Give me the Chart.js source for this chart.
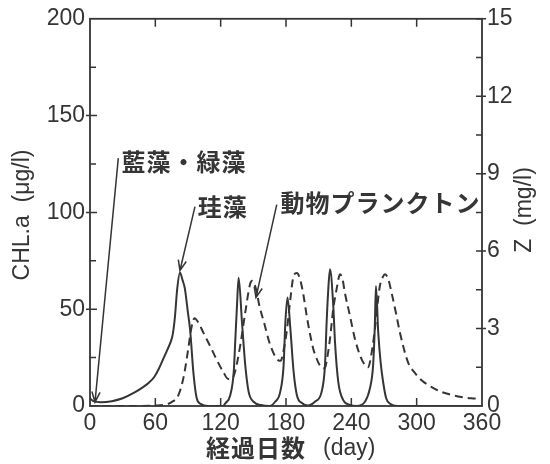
<!DOCTYPE html>
<html><head><meta charset="utf-8">
<script src="https://cdn.jsdelivr.net/npm/chart.js@4/dist/chart.umd.min.js"></script>
<style>html,body{margin:0;padding:0;background:#fff;overflow:hidden}#wrap{width:550px;height:464px}</style>
</head><body><div id="wrap"><canvas id="c" width="550" height="464"></canvas></div>
<script>
// ---- data ----
const chlDays = [0,3,10,20,30,41,48,54,59,63,67,71,74,76,78,80,82.6,85,87,90,92,95,98,102,108,
  122,124.3,128.8,132,133.5,135,136.5,139.6,142.6,145.7,150.3,157,165,
  170,174.7,177.8,179.4,181.4,184,187,190,195,200,
  206.6,212.7,215.8,217.3,218.8,220.4,223.4,225,228,232.6,238.7,245,
  252.5,257,260,261.5,262.6,264.7,267,269.3,272,276,282,360];
const chlValues = [4,2.5,2,2.5,4,7,9.5,12,15,19,24,29,33,37,46,60,69,65,61,48,39,17,4,1,0,
  0,1.4,5.6,17.6,34.7,52,66.3,43,21,7.3,2.2,0.5,0,
  2.2,7.3,21,43,56,40,17.6,5.6,1.4,0.3,
  2.2,7.3,21,43,60,70.6,52,33,12.5,3,0.5,0,
  2.2,9,21,40,62,38,22,12,4,1,0,0];
const zDays = [0,30,60,70,75,81,86,90,93,96,100,104,110,116,122,127,130,133,138,142.6,147,149,152,156,159.4,165.6,
  173,175,178,181,184,187,190,193,196,199,202,205,208,211,214,216,218,220.4,223.4,226.5,229.6,
  232,234,238.7,243.3,248,252.5,255.5,258,261.7,264,266,269,271,274,277,281,284.6,292,298,304.5,313,323,333,341,350,357];
const zValues = [0,0,0.02,0.06,0.15,0.4,1.13,2.15,3.0,3.4,3.2,2.85,2.35,1.82,1.35,1.05,1.05,1.3,2.35,3.63,4.72,4.85,4.6,3.8,3.3,2.35,
  1.77,1.75,2.2,3.0,4.14,5.04,5.15,4.9,4.3,3.5,2.8,2.22,1.85,1.58,1.45,1.5,1.9,2.6,3.76,4.53,5.1,
  4.9,4.4,3.5,2.6,1.96,1.58,1.5,1.9,3.0,3.9,4.6,5.0,5.1,4.9,4.38,3.6,2.85,1.7,1.3,1.0,0.75,0.54,0.42,0.35,0.3,0.28];
const xTickValues = [0,60,120,180,240,300,360];
const leftTickValues = [0,50,100,150,200];
const rightTickValues = [0,3,6,9,12,15];
const xTitleJa = '経過日数';
const xTitleUnit = '(day)';
const leftTitle = 'CHL.a  (μg/l)';
const rightTitle = 'Z  (mg/l)';
const notes = [
  {text:'藍藻・緑藻', at:[29,126], from:[26,128], to:[4.6,2]},
  {text:'珪藻', at:[99,103], from:[96.4,103], to:[82.6,70]},
  {text:'動物プランクトン', at:[175,105], from:[171.5,104], to:[152.4,56]}
];

const INK = '#353535';
const NUMFONT = '"Liberation Sans", Arial, sans-serif';
const JAFONT = '"Noto Sans CJK JP", sans-serif';

const decor = {
  id:'decor',
  afterDraw(chart){
    const ctx = chart.ctx, a = chart.chartArea;
    const sx = chart.scales.x, sy = chart.scales.y, sy2 = chart.scales.y2;
    ctx.save();
    ctx.strokeStyle = INK; ctx.fillStyle = INK; ctx.lineWidth = 1.8;
    ctx.strokeRect(a.left, a.top, a.right - a.left, a.bottom - a.top);
    ctx.lineWidth = 1.5;
    ctx.beginPath();
    xTickValues.forEach(v => {
      if (v <= sx.min || v >= sx.max) return;
      const px = sx.getPixelForValue(v);
      ctx.moveTo(px, a.bottom); ctx.lineTo(px, a.bottom - 8);
      ctx.moveTo(px, a.top); ctx.lineTo(px, a.top + 8);
    });
    leftTickValues.forEach((v, i) => {
      const py = sy.getPixelForValue(v);
      if (v > sy.min && v < sy.max) { ctx.moveTo(a.left - 4, py); ctx.lineTo(a.left + 7, py); }
      if (i < leftTickValues.length - 1) {
        const pm = sy.getPixelForValue((v + leftTickValues[i+1]) / 2);
        ctx.moveTo(a.left, pm); ctx.lineTo(a.left + 6, pm);
      }
    });
    rightTickValues.forEach((v, i) => {
      const py = sy2.getPixelForValue(v);
      if (v > sy2.min) { ctx.moveTo(a.right - 6, py); ctx.lineTo(a.right + 4, py); }
      if (i < rightTickValues.length - 1) {
        const pm = sy2.getPixelForValue((v + rightTickValues[i+1]) / 2);
        ctx.moveTo(a.right - 6, pm); ctx.lineTo(a.right, pm);
      }
    });
    ctx.stroke();

    // axis titles
    ctx.textBaseline = 'middle';
    ctx.font = 'bold 24px ' + JAFONT;
    ctx.textAlign = 'left';
    ctx.letterSpacing = '1px';
    ctx.fillText(xTitleJa, 206, 448);
    ctx.letterSpacing = '0px';
    ctx.font = '23px ' + NUMFONT;
    ctx.fillText(xTitleUnit, 323, 449);
    ctx.textAlign = 'center';
    ctx.save(); ctx.translate(23, 215); ctx.rotate(-Math.PI/2); ctx.fillText(leftTitle, 0, 0); ctx.restore();
    ctx.save(); ctx.translate(525, 210); ctx.rotate(-Math.PI/2); ctx.fillText(rightTitle, 0, 0); ctx.restore();

    // annotations
    ctx.lineWidth = 1.5;
    notes.forEach(n => {
      const x1 = sx.getPixelForValue(n.from[0]), y1 = sy.getPixelForValue(n.from[1]);
      const x2 = sx.getPixelForValue(n.to[0]), y2 = sy.getPixelForValue(n.to[1]);
      ctx.beginPath(); ctx.moveTo(x1, y1); ctx.lineTo(x2, y2);
      const th = Math.atan2(y2 - y1, x2 - x1), L = 11, w = 0.38;
      ctx.moveTo(x2 - L*Math.cos(th - w), y2 - L*Math.sin(th - w)); ctx.lineTo(x2, y2);
      ctx.lineTo(x2 - L*Math.cos(th + w), y2 - L*Math.sin(th + w));
      ctx.stroke();
      ctx.font = 'bold 24px ' + JAFONT;
      ctx.letterSpacing = '1px';
      ctx.textAlign = 'left';
      ctx.fillText(n.text, sx.getPixelForValue(n.at[0]), sy.getPixelForValue(n.at[1]));
    });
    ctx.restore();
  }
};

new Chart(document.getElementById('c'), {
  type: 'line',
  data: { datasets: [
    { label:'CHL.a', data: chlDays.map((d,i)=>({x:d, y:chlValues[i]})), yAxisID:'y',
      borderColor: INK, borderWidth: 2, pointRadius: 0, cubicInterpolationMode: 'monotone', fill: false },
    { label:'Z', data: zDays.map((d,i)=>({x:d, y:zValues[i]})), yAxisID:'y2',
      borderColor: INK, borderWidth: 2, borderDash: [8,5], pointRadius: 0, cubicInterpolationMode: 'monotone', fill: false }
  ]},
  options: {
    responsive: false, animation: false, devicePixelRatio: 1,
    layout: { padding: { top: 16, left: 0, right: 0, bottom: 0 } },
    plugins: { legend: { display: false }, tooltip: { enabled: false } },
    scales: {
      x: { type: 'linear', min: 0, max: 360,
        afterBuildTicks: s => { s.ticks = xTickValues.map(v => ({value: v})); },
        afterFit: s => { s.height = 58; },
        grid: { display: false, drawTicks: false, tickLength: 0 }, border: { display: false },
        ticks: { color: INK, font: { family: NUMFONT, size: 23 }, padding: 4, maxRotation: 0, autoSkip: false } },
      y: { position: 'left', min: 0, max: 200,
        afterBuildTicks: s => { s.ticks = leftTickValues.map(v => ({value: v})); },
        afterFit: s => { s.width = 90; },
        grid: { display: false, drawTicks: false, tickLength: 0 }, border: { display: false },
        ticks: { color: INK, font: { family: NUMFONT, size: 23 }, padding: 5 } },
      y2: { position: 'right', min: 0, max: 15,
        afterBuildTicks: s => { s.ticks = rightTickValues.map(v => ({value: v})); },
        afterFit: s => { s.width = 68; },
        grid: { display: false, drawTicks: false, tickLength: 0 }, border: { display: false },
        ticks: { color: INK, font: { family: NUMFONT, size: 23 }, padding: 5 } }
    }
  },
  plugins: [decor]
});
</script></body></html>
